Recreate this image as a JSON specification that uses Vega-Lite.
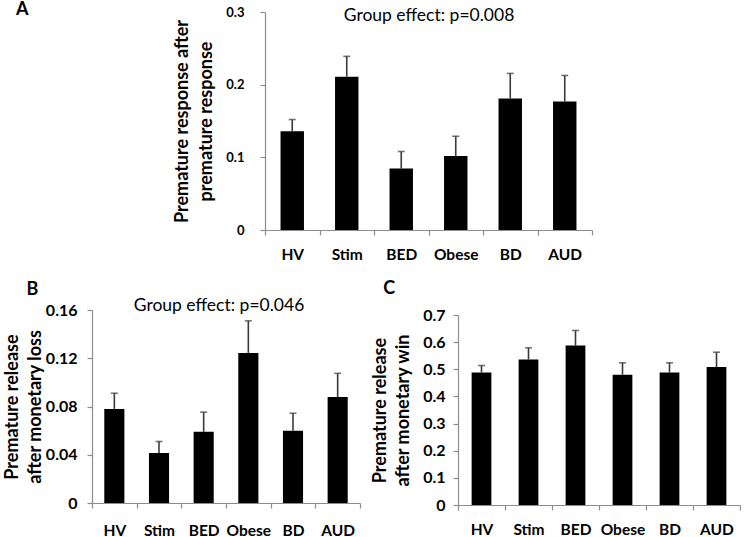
{
  "$schema": "https://vega.github.io/schema/vega-lite/v6.json",
  "autosize": {"type": "pad"},
  "padding": {"left": 3, "top": 1, "right": 0, "bottom": 0},
  "background": "white",
  "config": {
    "view": {"stroke": null},
    "font": "Lato",
    "axis": {
      "grid": false,
      "domainColor": "#8c8c8c",
      "tickColor": "#8c8c8c",
      "domainWidth": 1.2,
      "tickWidth": 1.2,
      "tickSize": 5,
      "labelColor": "#000",
      "titleColor": "#000",
      "labelFont": "Lato",
      "titleFont": "Lato",
      "labelFontWeight": "bold",
      "titleFontWeight": "bold",
      "labelOverlap": false
    },
    "axisX": {"tickBand": "extent", "labelAngle": 0, "title": null, "labelFontSize": 15.5},
    "title": {"font": "Lato", "fontWeight": "bold", "fontSize": 18, "color": "#000", "anchor": "start", "frame": "group", "baseline": "bottom"}
  },
  "datasets": {
    "A": [
      {"group": "HV", "mean": 0.136, "upper": 0.152},
      {"group": "Stim", "mean": 0.211, "upper": 0.239},
      {"group": "BED", "mean": 0.0845, "upper": 0.108},
      {"group": "Obese", "mean": 0.102, "upper": 0.129},
      {"group": "BD", "mean": 0.181, "upper": 0.2155},
      {"group": "AUD", "mean": 0.177, "upper": 0.2127}
    ],
    "B": [
      {"group": "HV", "mean": 0.078, "upper": 0.091},
      {"group": "Stim", "mean": 0.0415, "upper": 0.051},
      {"group": "BED", "mean": 0.059, "upper": 0.0753},
      {"group": "Obese", "mean": 0.1244, "upper": 0.151},
      {"group": "BD", "mean": 0.06, "upper": 0.0744},
      {"group": "AUD", "mean": 0.0878, "upper": 0.1075}
    ],
    "C": [
      {"group": "HV", "mean": 0.488, "upper": 0.514},
      {"group": "Stim", "mean": 0.536, "upper": 0.579},
      {"group": "BED", "mean": 0.5875, "upper": 0.643},
      {"group": "Obese", "mean": 0.48, "upper": 0.524},
      {"group": "BD", "mean": 0.488, "upper": 0.524},
      {"group": "AUD", "mean": 0.508, "upper": 0.563}
    ],
    "noteA": [{"t": "Group effect: p=0.008"}],
    "noteB": [{"t": "Group effect: p=0.046"}]
  },
  "bounds": "flush",
  "spacing": 80,
  "vconcat": [
    {
      "width": 500,
      "height": 218,
      "title": {"text": "A", "dx": -76, "offset": -13.2},
      "layer": [
        {
          "data": {"name": "A"},
          "mark": {"type": "bar", "color": "#000", "width": {"band": 0.43}},
          "encoding": {
            "x": {"field": "group", "type": "nominal", "sort": null, "scale": {"range": [173, 500], "paddingInner": 0, "paddingOuter": 0}, "axis": {"labelPadding": 12}},
            "y": {"field": "mean", "type": "quantitative", "scale": {"domain": [0, 0.3]},
              "axis": {"title": ["Premature response after", "premature response"], "offset": -173, "values": [0, 0.1, 0.2, 0.3], "tickCount": 4, "format": "~g", "labelFontSize": 13, "labelPadding": 16, "titlePadding": 10, "titleFontSize": 18, "titleLineHeight": 24}}
          }
        },
        {
          "data": {"name": "A"},
          "mark": {"type": "rule", "color": "#3a3a3a", "strokeWidth": 1.6},
          "encoding": {
            "x": {"field": "group", "type": "nominal", "sort": null},
            "y": {"field": "mean", "type": "quantitative",
              "axis": {"title": ["Premature response after", "premature response"], "offset": -173, "values": [0, 0.1, 0.2, 0.3], "tickCount": 4, "format": "~g", "labelFontSize": 13, "labelPadding": 16, "titlePadding": 10, "titleFontSize": 18, "titleLineHeight": 24}},
            "y2": {"field": "upper"}
          }
        },
        {
          "data": {"name": "A"},
          "mark": {"type": "tick", "color": "#3a3a3a", "size": 7, "thickness": 1.6},
          "encoding": {
            "x": {"field": "group", "type": "nominal", "sort": null},
            "y": {"field": "upper", "type": "quantitative",
              "axis": {"title": ["Premature response after", "premature response"], "offset": -173, "values": [0, 0.1, 0.2, 0.3], "tickCount": 4, "format": "~g", "labelFontSize": 13, "labelPadding": 16, "titlePadding": 10, "titleFontSize": 18, "titleLineHeight": 24}}
          }
        },
        {
          "data": {"name": "noteA"},
          "mark": {"type": "text", "fontSize": 17.5, "baseline": "alphabetic", "color": "#000", "dx": 87},
          "encoding": {
            "y": {"datum": 0.288, "type": "quantitative",
              "axis": {"title": ["Premature response after", "premature response"], "offset": -173, "values": [0, 0.1, 0.2, 0.3], "tickCount": 4, "format": "~g", "labelFontSize": 13, "labelPadding": 16, "titlePadding": 10, "titleFontSize": 18, "titleLineHeight": 24}},
            "text": {"field": "t"}
          }
        }
      ]
    },
    {
      "bounds": "flush",
      "spacing": 98,
      "hconcat": [
        {
          "width": 268,
          "height": 193,
          "title": {"text": "B", "dx": -65.5, "offset": -1.5},
          "layer": [
            {
              "data": {"name": "B"},
              "mark": {"type": "bar", "color": "#000", "width": {"band": 0.45}},
              "encoding": {
                "x": {"field": "group", "type": "nominal", "sort": null, "scale": {"paddingInner": 0, "paddingOuter": 0}, "axis": {"labelPadding": 15}},
                "y": {"field": "mean", "type": "quantitative", "scale": {"domain": [0, 0.16]},
                  "axis": {"title": ["Premature release", "after monetary loss"], "values": [0, 0.04, 0.08, 0.12, 0.16], "tickCount": 5, "format": "~g", "labelFontSize": 16, "labelPadding": 10, "titlePadding": 1, "titleFontSize": 18, "titleLineHeight": 23}}
              }
            },
            {
              "data": {"name": "B"},
              "mark": {"type": "rule", "color": "#3a3a3a", "strokeWidth": 1.6},
              "encoding": {
                "x": {"field": "group", "type": "nominal", "sort": null},
                "y": {"field": "mean", "type": "quantitative",
                  "axis": {"title": ["Premature release", "after monetary loss"], "values": [0, 0.04, 0.08, 0.12, 0.16], "tickCount": 5, "format": "~g", "labelFontSize": 16, "labelPadding": 10, "titlePadding": 1, "titleFontSize": 18, "titleLineHeight": 23}},
                "y2": {"field": "upper"}
              }
            },
            {
              "data": {"name": "B"},
              "mark": {"type": "tick", "color": "#3a3a3a", "size": 7, "thickness": 1.6},
              "encoding": {
                "x": {"field": "group", "type": "nominal", "sort": null},
                "y": {"field": "upper", "type": "quantitative",
                  "axis": {"title": ["Premature release", "after monetary loss"], "values": [0, 0.04, 0.08, 0.12, 0.16], "tickCount": 5, "format": "~g", "labelFontSize": 16, "labelPadding": 10, "titlePadding": 1, "titleFontSize": 18, "titleLineHeight": 23}}
              }
            },
            {
              "data": {"name": "noteB"},
              "mark": {"type": "text", "fontSize": 17.5, "baseline": "alphabetic", "color": "#000", "dx": -7},
              "encoding": {
                "y": {"datum": 0.159, "type": "quantitative",
                  "axis": {"title": ["Premature release", "after monetary loss"], "values": [0, 0.04, 0.08, 0.12, 0.16], "tickCount": 5, "format": "~g", "labelFontSize": 16, "labelPadding": 10, "titlePadding": 1, "titleFontSize": 18, "titleLineHeight": 23}},
                "text": {"field": "t"}
              }
            }
          ]
        },
        {
          "width": 282,
          "height": 195,
          "title": {"text": "C", "dx": -74.7, "offset": 9.5},
          "layer": [
            {
              "data": {"name": "C"},
              "mark": {"type": "bar", "color": "#000", "width": {"band": 0.42}},
              "encoding": {
                "x": {"field": "group", "type": "nominal", "sort": null, "scale": {"paddingInner": 0, "paddingOuter": 0}, "axis": {"labelPadding": 12}},
                "y": {"field": "mean", "type": "quantitative", "scale": {"domain": [0, 0.7], "range": [195, 5]},
                  "axis": {"title": ["Premature release", "after monetary win"], "values": [0, 0.1, 0.2, 0.3, 0.4, 0.5, 0.6, 0.7], "tickCount": 8, "format": "~g", "labelFontSize": 16, "labelPadding": 8, "titlePadding": 10, "titleFontSize": 18, "titleLineHeight": 23}}
              }
            },
            {
              "data": {"name": "C"},
              "mark": {"type": "rule", "color": "#3a3a3a", "strokeWidth": 1.6},
              "encoding": {
                "x": {"field": "group", "type": "nominal", "sort": null},
                "y": {"field": "mean", "type": "quantitative",
                  "axis": {"title": ["Premature release", "after monetary win"], "values": [0, 0.1, 0.2, 0.3, 0.4, 0.5, 0.6, 0.7], "tickCount": 8, "format": "~g", "labelFontSize": 16, "labelPadding": 8, "titlePadding": 10, "titleFontSize": 18, "titleLineHeight": 23}},
                "y2": {"field": "upper"}
              }
            },
            {
              "data": {"name": "C"},
              "mark": {"type": "tick", "color": "#3a3a3a", "size": 7, "thickness": 1.6},
              "encoding": {
                "x": {"field": "group", "type": "nominal", "sort": null},
                "y": {"field": "upper", "type": "quantitative",
                  "axis": {"title": ["Premature release", "after monetary win"], "values": [0, 0.1, 0.2, 0.3, 0.4, 0.5, 0.6, 0.7], "tickCount": 8, "format": "~g", "labelFontSize": 16, "labelPadding": 8, "titlePadding": 10, "titleFontSize": 18, "titleLineHeight": 23}}
              }
            }
          ]
        }
      ]
    }
  ]
}
